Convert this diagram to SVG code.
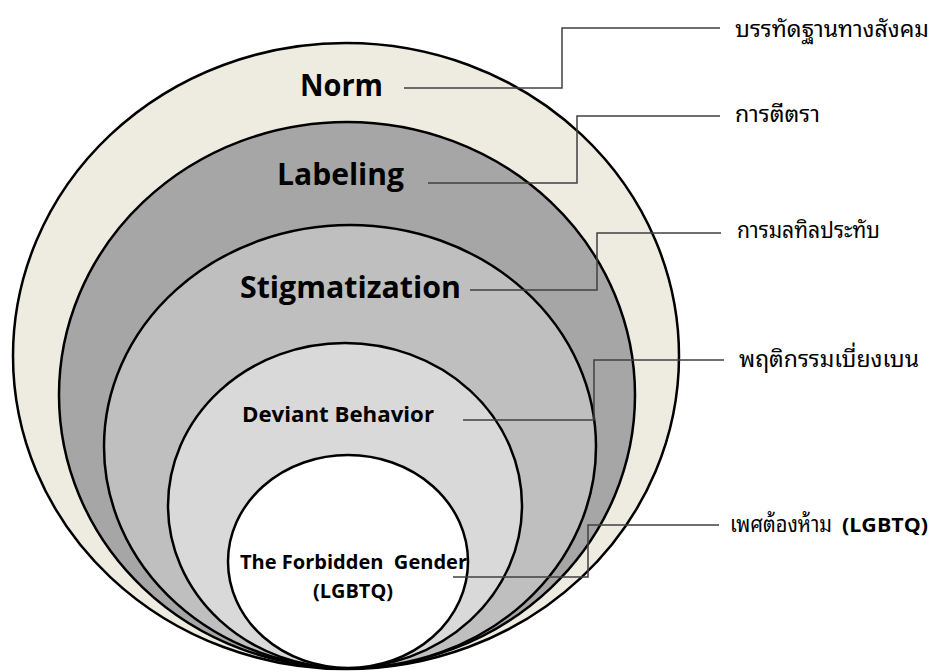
<svg xmlns="http://www.w3.org/2000/svg" width="932" height="672" viewBox="0 0 932 672">
<style>
.ring{stroke:#000;stroke-width:2.5}
.lbl{font-family:"Open Sans","Noto Sans","Liberation Sans",sans-serif;font-weight:bold;fill:#000;text-anchor:middle}
.th{font-family:"Noto Sans Thai Looped","Loma","Garuda","Tahoma","Noto Sans Thai","Noto Sans","DejaVu Sans",sans-serif;font-size:23px;fill:#000}
.en{font-family:"Open Sans","Noto Sans","Liberation Sans",sans-serif;font-weight:bold;font-size:20px;fill:#000}
.conn{fill:none;stroke:#404040;stroke-width:1.5}
</style>
<rect width="932" height="672" fill="#fff"/>
<g id="norm">
<ellipse class="ring" cx="346" cy="356" rx="333" ry="313" fill="#EEEBE0"/>
<text class="lbl" x="341.5" y="96" font-size="30" textLength="83" lengthAdjust="spacingAndGlyphs">Norm</text>
</g>
<g id="labeling">
<ellipse class="ring" cx="347" cy="395" rx="288" ry="273" fill="#A6A6A6"/>
<text class="lbl" x="340.5" y="185" font-size="30" textLength="127" lengthAdjust="spacingAndGlyphs">Labeling</text>
</g>
<g id="stigmatization">
<ellipse class="ring" cx="350" cy="446.5" rx="246" ry="221.5" fill="#BFBFBF"/>
<text class="lbl" x="350.5" y="298" font-size="30" textLength="221" lengthAdjust="spacingAndGlyphs">Stigmatization</text>
</g>
<g id="deviant">
<ellipse class="ring" cx="345" cy="505.5" rx="177" ry="162.5" fill="#D9D9D9"/>
<text class="lbl" x="338" y="422" font-size="21" textLength="192" lengthAdjust="spacingAndGlyphs">Deviant Behavior</text>
</g>
<g id="forbidden">
<ellipse class="ring" cx="348" cy="561.5" rx="120" ry="106.5" fill="#FFFFFF"/>
<text class="lbl" x="353.5" y="569" font-size="20" textLength="227" lengthAdjust="spacingAndGlyphs" xml:space="preserve">The Forbidden  Gender</text>
<text class="lbl" x="353" y="598" font-size="20" textLength="80" lengthAdjust="spacingAndGlyphs">(LGBTQ)</text>
</g>
<g id="connectors">
<polyline class="conn" points="404,88 562,88 562,28 720,28"/>
<polyline class="conn" points="428,183 577,183 577,116 720,116"/>
<polyline class="conn" points="470,290 597,290 597,233 721,233"/>
<polyline class="conn" points="463,420 594,420 594,360 724,360"/>
<polyline class="conn" points="453,577 588,577 588,525 719,525"/>
</g>
<g id="labels">
<text class="th" x="735" y="37" textLength="194" lengthAdjust="spacingAndGlyphs">บรรทัดฐานทางสังคม</text>
<text class="th" x="735" y="122" textLength="85" lengthAdjust="spacingAndGlyphs">การตีตรา</text>
<text class="th" x="737" y="238" textLength="143" lengthAdjust="spacingAndGlyphs">การมลทิลประทับ</text>
<text class="th" x="739" y="367" textLength="180" lengthAdjust="spacingAndGlyphs">พฤติกรรมเบี่ยงเบน</text>
<text class="th" x="730" y="532" textLength="102" lengthAdjust="spacingAndGlyphs">เพศต้องห้าม</text>
<text class="en" x="842" y="532" textLength="86" lengthAdjust="spacingAndGlyphs">(LGBTQ)</text>
</g>
</svg>
